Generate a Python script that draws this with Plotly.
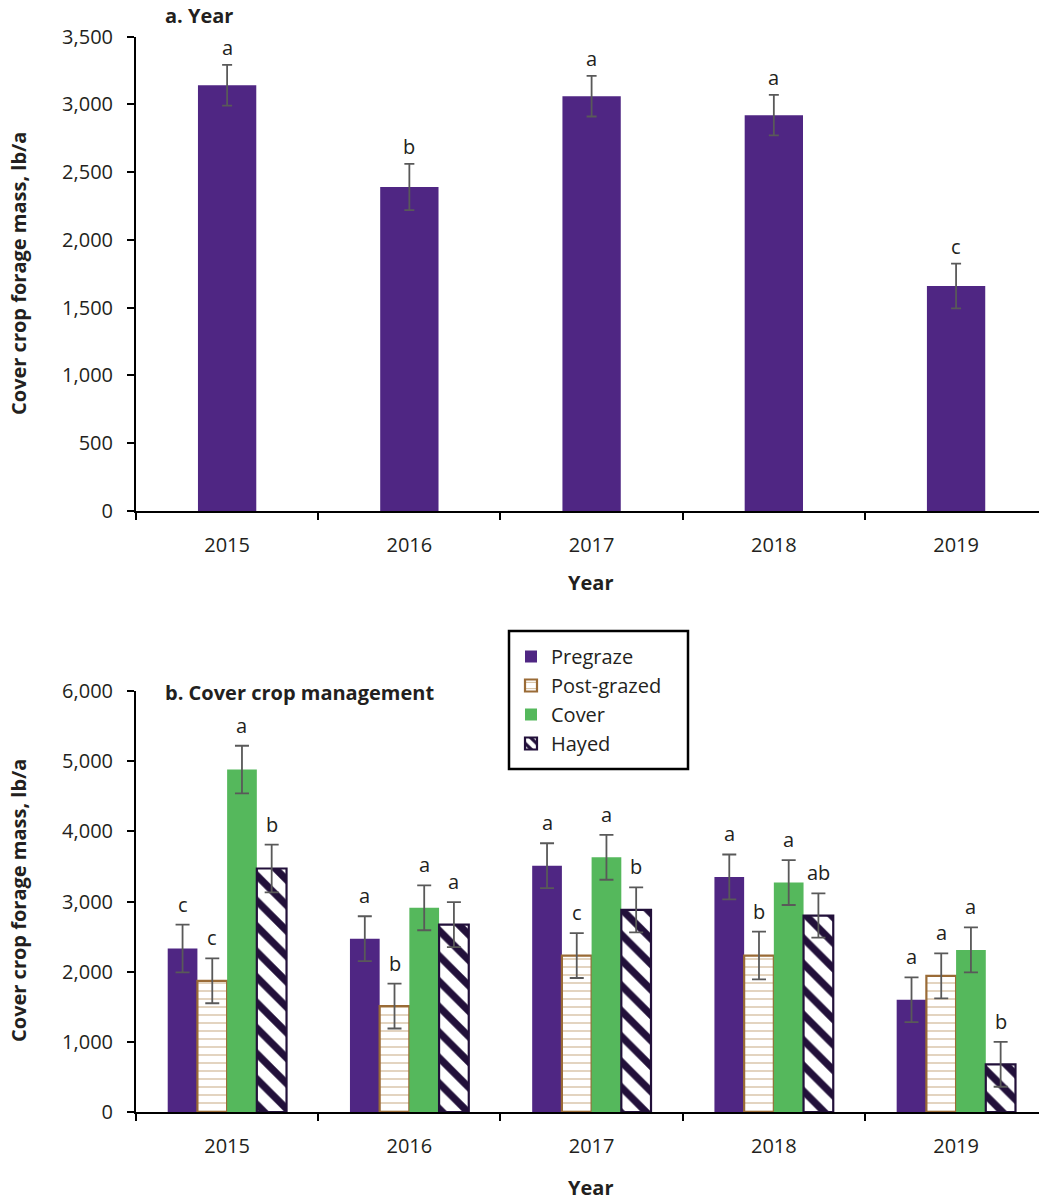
import plotly.graph_objects as go

# ---- Panel a: forage mass by year ----
years = ["2015", "2016", "2017", "2018", "2019"]
year_mass = [3140, 2390, 3060, 2920, 1660]
year_se = [150, 170, 150, 150, 165]
year_letters = ["a", "b", "a", "a", "c"]

# ---- Panel b: forage mass by cover crop management ----
treatments = ["Pregraze", "Post-grazed", "Cover", "Hayed"]
pregraze = [2330, 2470, 3510, 3350, 1600]
pregraze_se = [340, 320, 320, 320, 320]
pregraze_letters = ["c", "a", "a", "a", "a"]
postgrazed = [1870, 1510, 2230, 2230, 1940]
postgrazed_se = [320, 320, 320, 340, 320]
postgrazed_letters = ["c", "b", "c", "b", "a"]
cover = [4880, 2910, 3630, 3270, 2310]
cover_se = [340, 320, 320, 320, 320]
cover_letters = ["a", "a", "a", "a", "a"]
hayed = [3470, 2670, 2880, 2800, 680]
hayed_se = [340, 320, 320, 315, 320]
hayed_letters = ["b", "a", "b", "ab", "b"]

W, H = 1039, 1203
FONT = "Open Sans"
TXT = "#231f20"
ERR = "#595959"
PURPLE = "#4f2683"
GREEN = "#55b85c"
BROWN = "#9a6b36"
DARK = "#22103a"


def py(px):
    return 1 - px / H


fig = go.Figure()

fig.add_trace(go.Bar(
    x=years, y=year_mass, xaxis="x", yaxis="y",
    width=0.32, offset=-0.16,
    marker=dict(color=PURPLE, line=dict(width=0)),
    error_y=dict(type="data", array=year_se, color=ERR, thickness=1.8, width=5),
    showlegend=False,
))

bar_w = 0.163
group_start = -2 * bar_w
series = [
    (pregraze, pregraze_se, pregraze_letters,
     dict(color=PURPLE, line=dict(width=0))),
    (postgrazed, postgrazed_se, postgrazed_letters,
     dict(color="white", line=dict(color=BROWN, width=2.2),
          pattern=dict(shape="-", fgcolor="#cdb38e", bgcolor="white",
                       fgopacity=1, size=8, solidity=0.14))),
    (cover, cover_se, cover_letters,
     dict(color=GREEN, line=dict(width=0))),
    (hayed, hayed_se, hayed_letters,
     dict(color=DARK, line=dict(color=DARK, width=2.2),
          pattern=dict(shape="\\", fgcolor="white", bgcolor=DARK,
                       fgopacity=1, size=18, solidity=0.6))),
]

annotations = []
for i, (name, (vals, se, letters, marker)) in enumerate(zip(treatments, series)):
    off = group_start + i * bar_w
    fig.add_trace(go.Bar(
        name=name, x=years, y=vals, xaxis="x2", yaxis="y2",
        width=bar_w, offset=off, marker=marker,
        error_y=dict(type="data", array=se, color=ERR, thickness=1.8, width=7),
    ))
    for j, (v, e, lab) in enumerate(zip(vals, se, letters)):
        annotations.append(dict(
            x=j + off + bar_w / 2, y=v + e, xref="x2", yref="y2",
            text=lab, showarrow=False, yanchor="bottom", yshift=5,
            font=dict(family=FONT, size=20, color=TXT),
        ))

for j, (v, e, lab) in enumerate(zip(year_mass, year_se, year_letters)):
    annotations.append(dict(
        x=j, y=v + e, xref="x", yref="y", text=lab, showarrow=False,
        yanchor="bottom", yshift=2,
        font=dict(family=FONT, size=20, color=TXT),
    ))

bold = dict(family=FONT, size=20, color=TXT)
annotations += [
    dict(text="<b>a. Year</b>", x=163 / W, y=py(15), xref="paper", yref="paper",
         xanchor="left", yanchor="middle", showarrow=False, font=bold),
    dict(text="<b>b. Cover crop management</b>", x=163 / W, y=py(692),
         xref="paper", yref="paper", xanchor="left", yanchor="middle",
         showarrow=False, font=bold),
    dict(text="<b>Year</b>", x=590 / W, y=py(582), xref="paper", yref="paper",
         xanchor="center", yanchor="middle", showarrow=False, font=bold),
    dict(text="<b>Year</b>", x=590 / W, y=py(1187), xref="paper", yref="paper",
         xanchor="center", yanchor="middle", showarrow=False, font=bold),
    dict(text="<b>Cover crop forage mass, lb/a</b>", x=18 / W, y=py(274),
         xref="paper", yref="paper", xanchor="center", yanchor="middle",
         textangle=-90, showarrow=False, font=bold),
    dict(text="<b>Cover crop forage mass, lb/a</b>", x=18 / W, y=py(901),
         xref="paper", yref="paper", xanchor="center", yanchor="middle",
         textangle=-90, showarrow=False, font=bold),
]

xdom = [136 / W, 1.0]
xrange = [-0.5, 4.455]
tickfont = dict(family=FONT, size=20, color=TXT)

xcommon = dict(
    type="category", range=xrange, domain=xdom, showline=True,
    linecolor="black", linewidth=2, ticks="outside", tickson="boundaries",
    ticklen=7, tickwidth=2, tickcolor="black", showgrid=False,
    tickfont=tickfont, ticklabelstandoff=15, zeroline=False, automargin=False,
)
ycommon = dict(
    showline=True, linecolor="black", linewidth=2, ticks="outside",
    ticklen=7, tickwidth=2, tickcolor="black", showgrid=False,
    tickfont=tickfont, tickformat=",d", zeroline=False, ticklabelstandoff=10,
    automargin=False,
)

# legend frame drawn as a paper-space rectangle
shapes = [dict(type="rect", xref="paper", yref="paper",
               x0=509 / W, x1=688 / W, y0=py(769), y1=py(631),
               line=dict(color="black", width=2.5), fillcolor="white",
               layer="below")]

fig.update_layout(
    width=W, height=H, autosize=False,
    margin=dict(l=0, r=0, t=0, b=0, pad=0),
    paper_bgcolor="white", plot_bgcolor="rgba(0,0,0,0)",
    barmode="overlay",
    font=dict(family=FONT, color=TXT),
    xaxis=dict(anchor="y", **xcommon),
    yaxis=dict(anchor="x", domain=[py(511), py(36.5)], range=[0, 3500],
               dtick=500, **ycommon),
    xaxis2=dict(anchor="y2", **xcommon),
    yaxis2=dict(anchor="x2", domain=[py(1112), py(691)], range=[0, 6000],
                dtick=1000, **ycommon),
    legend=dict(
        x=511 / W, y=py(637), xanchor="left", yanchor="top",
        borderwidth=0, bgcolor="rgba(0,0,0,0)",
        font=dict(family=FONT, size=20, color=TXT),
        tracegroupgap=0, itemwidth=30,
    ),
    shapes=shapes,
    annotations=annotations,
)

fig.write_html("out.html")
